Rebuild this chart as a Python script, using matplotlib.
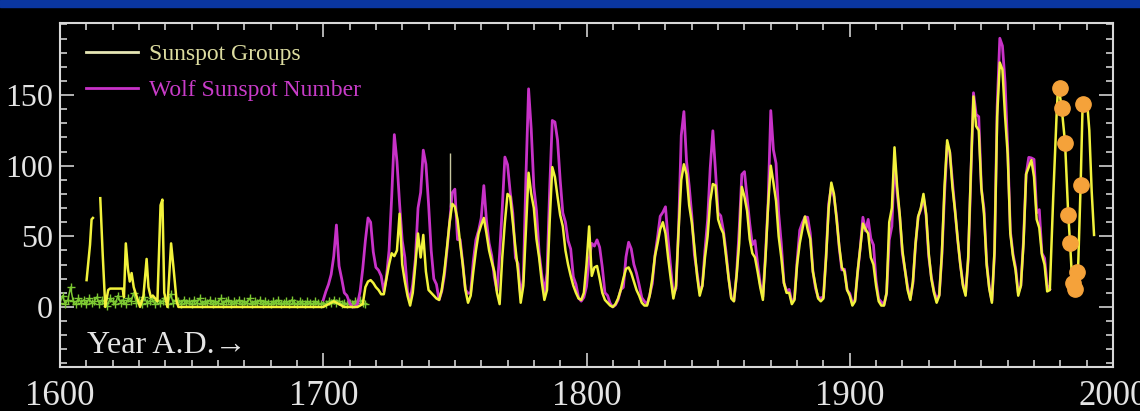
import matplotlib
matplotlib.use("Agg")
import matplotlib.pyplot as plt
import numpy as np
from matplotlib.patches import Rectangle
from matplotlib.ticker import MultipleLocator

# Wolf (Zurich) yearly sunspot number, 1700-1976
wolf_years = np.arange(1700, 1977)
wolf = [5, 11, 16, 23, 36, 58, 29, 20, 10, 8, 3, 0, 0, 2, 11, 27, 47, 63, 60, 39,
        28, 26, 22, 11, 21, 40, 78, 122, 103, 73, 47, 35, 11, 5, 16, 34, 70, 81, 111, 101,
        73, 40, 20, 16, 5, 11, 22, 40, 60, 80.9, 83.4, 47.7, 47.8, 30.7, 12.2, 9.6, 10.2, 32.4, 47.6, 54.0,
        62.9, 85.9, 61.2, 45.1, 36.4, 20.9, 11.4, 37.8, 69.8, 106.1, 100.8, 81.6, 66.5, 34.8, 30.6, 7.0, 19.8, 92.5, 154.4, 125.9,
        84.8, 68.1, 38.5, 22.8, 10.2, 24.1, 82.9, 132.0, 130.9, 118.1, 89.9, 66.6, 60.0, 46.9, 41.0, 21.3, 16.0, 6.4, 4.1, 6.8,
        14.5, 34.0, 45.0, 43.1, 47.5, 42.2, 28.1, 10.1, 8.1, 2.5, 0.0, 1.4, 5.0, 12.2, 13.9, 35.4, 45.8, 41.1, 30.1, 23.9,
        15.6, 6.6, 4.0, 1.8, 8.5, 16.6, 36.3, 49.6, 64.2, 67.0, 70.9, 47.8, 27.5, 8.5, 13.2, 56.9, 121.5, 138.3, 103.2, 85.7,
        64.6, 36.7, 24.2, 10.7, 15.0, 40.1, 61.5, 98.5, 124.7, 96.3, 66.6, 64.5, 54.1, 39.0, 20.6, 6.7, 4.3, 22.7, 54.8, 93.8,
        95.8, 77.2, 59.1, 44.0, 47.0, 30.5, 16.3, 7.3, 37.6, 74.0, 139.0, 111.2, 101.6, 66.2, 44.7, 17.0, 11.3, 12.4, 3.4, 6.0,
        32.3, 54.3, 59.7, 63.7, 63.5, 52.2, 25.4, 13.1, 6.8, 6.3, 7.1, 35.6, 73.0, 85.1, 78.0, 64.0, 41.8, 26.2, 26.7, 12.1,
        9.5, 2.7, 5.0, 24.4, 42.0, 63.5, 53.8, 62.0, 48.5, 43.9, 18.6, 5.7, 3.6, 1.4, 9.6, 47.4, 57.1, 103.9, 80.6, 63.6,
        37.6, 26.1, 14.2, 5.8, 16.7, 44.3, 63.9, 69.0, 77.8, 64.9, 35.7, 21.2, 11.1, 5.7, 8.7, 36.1, 79.7, 114.4, 109.6, 88.8,
        67.8, 47.5, 30.6, 16.3, 9.6, 33.2, 92.6, 151.6, 136.3, 134.7, 83.9, 69.4, 31.5, 13.9, 4.4, 38.0, 141.7, 190.2, 184.8, 159.0,
        112.3, 53.9, 37.6, 27.9, 10.2, 15.1, 47.0, 93.8, 105.9, 105.5, 104.5, 66.6, 68.9, 38.0, 34.5, 15.5, 12.6]

# sunspot groups, early sparse observations (gaps as nan)
grp_early_years = [1610.1, 1611.4, 1612.0, 1612.5, np.nan, 1615.3, 1616.2, 1617.2, 1618.3, 1619.0,
                   1623.8, 1624.3, 1625.0, 1625.8, 1626.5, 1627.2, 1628.0, 1629.0, 1630.4, 1631.7,
                   1632.9, 1633.6, 1634.5, 1635.3, 1637.0, 1638.2, 1638.9, 1639.6, 1640.8, 1642.2,
                   1643.1, 1644.3]
grp_early = [19, 44, 62, 63, np.nan, 77, 38, 0, 12, 13,
             13, 7, 45, 27, 18, 24, 14, 8, 0, 8,
             34, 14, 7, 8, 4, 72, 76, 10, 0, 45,
             28, 4]

# sunspot groups, yearly 1645-1976
grp_years = np.arange(1645, 1977)
grp = [0] * 55 + [0, 1, 2, 3, 4, 3, 2, 1, 0, 0, 0, 0, 0, 0, 1, 2] + [
    14, 18, 19, 17, 14, 12, 9, 9, 20, 30, 38, 36, 40, 66, 30, 18, 8, 1, 10, 30,
    52, 35, 51, 25, 12, 10, 8, 6, 5, 12, 25, 42, 60, 73, 71, 62, 45, 30, 12, 3,
    8, 25, 40, 52, 58, 63, 52, 40, 32, 25, 10, 2, 35, 60, 80, 78, 60, 42, 25, 3,
    15, 55, 95, 80, 70, 48, 35, 18, 5, 12, 60, 99, 92, 78, 65, 57, 40, 30, 22, 15,
    10, 6, 5, 10, 30, 57, 22, 28, 29, 20, 10, 5, 3, 1, 0, 2, 6, 12, 20, 27,
    28, 24, 18, 12, 8, 3, 1, 1, 8, 20, 36, 45, 55, 60, 52, 35, 20, 6, 15, 55,
    90, 101, 94, 72, 60, 42, 22, 8, 15, 35, 50, 75, 87, 86, 62, 56, 52, 36, 20, 6,
    4, 22, 45, 85, 78, 68, 48, 38, 35, 25, 14, 5, 35, 72, 100, 88, 75, 50, 35, 17,
    10, 10, 2, 5, 30, 45, 55, 64, 55, 48, 25, 15, 6, 4, 6, 35, 70, 88, 80, 62,
    43, 28, 25, 12, 8, 1, 4, 25, 42, 59, 55, 52, 35, 30, 15, 4, 1, 1, 10, 60,
    70, 113, 85, 65, 40, 26, 12, 5, 18, 45, 64, 70, 80, 66, 38, 20, 10, 3, 8, 38,
    85, 118, 110, 85, 68, 48, 30, 15, 8, 35, 95, 149, 128, 125, 84, 66, 30, 13, 3, 40,
    135, 173, 168, 135, 108, 52, 36, 26, 8, 15, 45, 94, 99, 104, 92, 62, 56, 37, 30, 11,
    12]

# sunspot groups, last two cycles
grp_late_years = [1977.3, 1978.6, 1979.2, 1980.5, 1981.8, 1983.0, 1983.7, 1984.5, 1985.0, 1986.0,
                  1986.8, 1987.7, 1988.5, 1989.5, 1990.3, 1991.0, 1991.9, 1992.8]
grp_late = [78, 137, 158, 141, 116, 65, 45, 18, 10, 15,
            31, 86, 146, 140, 142, 125, 82, 51]

# low-level counts before 1716
green_years = np.arange(1600, 1717)
green = [3, 8, 2, 5, 14, 4, 2, 6, 3, 5,
         2, 6, 3, 4, 7, 2, 5, 3, 1, 6,
         4, 2, 8, 3, 5, 2, 6, 4, 10, 3,
         5, 2, 7, 3, 4, 6, 2, 5, 3, 4,
         6, 2, 9, 3, 5, 4, 2, 5, 3, 4,
         2, 5, 3, 6, 2, 4, 3, 5, 2, 4,
         3, 6, 2, 4, 5, 2, 4, 3, 5, 2,
         4, 3, 6, 2, 4, 3, 5, 2, 4, 3,
         2, 4, 3, 5, 2, 3, 4, 2, 5, 3,
         2, 4, 3, 2, 4, 3, 2, 4, 3, 2,
         3, 2, 4, 3, 5, 3, 4, 2, 3, 2,
         3, 2, 4, 3, 5, 3, 2]

# orange points on cycle 22
dot_years = [1979.9, 1980.5, 1981.8, 1983.0, 1983.7, 1984.9, 1985.6, 1986.4, 1987.7, 1988.7]
dot_vals = [155, 141, 116, 65, 45, 17, 13, 25, 86, 144]

spike_year = 1748.3
spike_lo, spike_hi = 71, 109

fnt = "Liberation Serif"
fg = "#e4e4e4"

fig = plt.figure(figsize=(11.4, 4.11), dpi=100, facecolor="black")
fig.patches.append(Rectangle((0, 1 - 7 / 411), 1, 7 / 411, transform=fig.transFigure,
                             color="#0a36a0", zorder=0))
ax = fig.add_axes([60 / 1140, 1 - 367 / 411, 1053 / 1140, 344 / 411])
ax.set_facecolor("black")

yel = "#f2f23c"
mag = "#c832c8"
gx = np.concatenate([grp_early_years, grp_years, grp_late_years])
gy = np.concatenate([grp_early, grp, grp_late])

ax.plot(green_years, green, color="#7cc832", lw=1.1, marker="+", ms=6, mew=1.0, zorder=2)
l2, = ax.plot(wolf_years, wolf, color=mag, lw=2, zorder=3)
ax.plot(gx, gy, color=yel, lw=1.8, zorder=4)
ax.vlines(spike_year, spike_lo, spike_hi, color="#c8c8a0", lw=1, zorder=4)
ax.plot(dot_years, dot_vals, "o", color="#f5a23a", ms=11, zorder=5)

l1, = ax.plot([], [], color="#e6e6b4", lw=2)
leg = ax.legend([l1, l2], ["Sunspot Groups", "Wolf Sunspot Number"], loc="upper left",
                bbox_to_anchor=(0.0247, 0.94), frameon=False, borderpad=0, borderaxespad=0,
                handlelength=2.2, handletextpad=0.45, labelspacing=0.6,
                prop={"family": fnt, "size": 17}, labelcolor=["#dcdca0", "#c83cc8"])

ax.text(1610.3, -32.5, "Year A.D.\u2192", color=fg, fontsize=23, family=fnt, va="baseline")

ax.set_xlim(1600, 2000)
ax.set_ylim(-42.5, 201)
ax.xaxis.set_major_locator(MultipleLocator(100))
ax.xaxis.set_minor_locator(MultipleLocator(10))
ax.yaxis.set_minor_locator(MultipleLocator(10))
ax.set_yticks([0, 50, 100, 150])
ax.tick_params(which="both", direction="in", top=True, right=True, colors="#d0d0d0", width=1.2)
ax.tick_params(which="major", length=10)
ax.tick_params(which="minor", length=5)
ax.tick_params(axis="x", which="major", pad=9)
ax.tick_params(axis="y", which="major", pad=5)
for lab in ax.get_xticklabels():
    lab.set_family(fnt)
    lab.set_fontsize(25)
    lab.set_color(fg)
for lab in ax.get_yticklabels():
    lab.set_family(fnt)
    lab.set_fontsize(23)
    lab.set_color(fg)
for s in ax.spines.values():
    s.set_color("#d8d8d8")
    s.set_linewidth(1.5)

fig.savefig("out.png", dpi=100, facecolor="black")
